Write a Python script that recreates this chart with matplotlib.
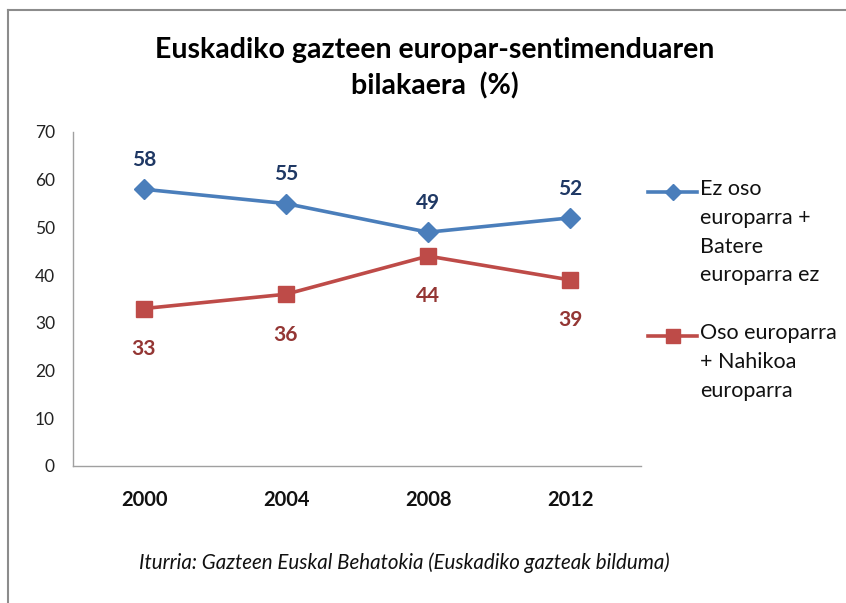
import matplotlib
matplotlib.use("Agg")
import matplotlib.pyplot as plt
from matplotlib.lines import Line2D

plt.rcParams['font.family'] = ['Lato', 'DejaVu Sans']

# data
years = ['2000', '2004', '2008', '2012']
ez_europarra = [58, 55, 49, 52]
europarra = [33, 36, 44, 39]
legend_labels = ['Ez oso\neuroparra +\nBatere\neuroparra ez',
                 'Oso europarra\n+ Nahikoa\neuroparra']
y_ticks = [0, 10, 20, 30, 40, 50, 60, 70]

blue = '#4A7EBB'
red = '#BE4B48'
blue_txt = '#1F3864'
red_txt = '#943634'

W, H = 846, 603
fig = plt.figure(figsize=(W / 100, H / 100), dpi=100)
fig.patch.set_facecolor('white')

ax = fig.add_axes([73 / W, (H - 466) / H, (641 - 73) / W, (466 - 132) / H])
x = list(range(len(years)))

ax.plot(x, ez_europarra, color=blue, lw=2.6, marker='D', ms=10, mec=blue, mfc=blue)
ax.plot(x, europarra, color=red, lw=2.6, marker='s', ms=11, mec=red, mfc=red)

for xi, v in zip(x, ez_europarra):
    ax.annotate(str(v), (xi, v), xytext=(0, 21), textcoords='offset points',
                ha='center', va='center', fontsize=15, fontweight='bold', color=blue_txt)
for xi, v in zip(x, europarra):
    ax.annotate(str(v), (xi, v), xytext=(0, -29), textcoords='offset points',
                ha='center', va='center', fontsize=15, fontweight='bold', color=red_txt)

ax.set_xlim(-0.5, 3.5)
ax.set_ylim(0, 70)
ax.set_yticks(y_ticks)
ax.set_xticks(x)
ax.set_xticklabels(years, fontsize=14.5, fontweight='bold')
ax.tick_params(axis='y', length=0, pad=13, labelsize=12.5, labelcolor='#222222')
ax.tick_params(axis='x', length=0, pad=17, labelcolor='#111111')
for s in ['top', 'right']:
    ax.spines[s].set_visible(False)
for s in ['left', 'bottom']:
    ax.spines[s].set_color('#A0A0A0')
    ax.spines[s].set_linewidth(1.0)

# title
fig.text(435 / W, 1 - 50 / H, 'Euskadiko gazteen europar-sentimenduaren',
         ha='center', va='center', fontsize=20.5, fontweight='bold', color='black')
fig.text(435 / W, 1 - 86 / H, 'bilakaera  (%)',
         ha='center', va='center', fontsize=20.5, fontweight='bold', color='black')

# legend drawn by hand so the handle sits on the first text line
for (ly, col, mk, ms, lab) in [(192, blue, 'D', 8, legend_labels[0]),
                               (336, red, 's', 10, legend_labels[1])]:
    fy = 1 - ly / H
    fig.add_artist(Line2D([648 / W, 697 / W], [fy, fy], color=col, lw=2.6,
                          transform=fig.transFigure))
    fig.add_artist(Line2D([672.5 / W], [fy], color=col, marker=mk, ms=ms,
                          ls='none', transform=fig.transFigure))
    fig.text(700 / W, fy + 13 / H, lab, ha='left', va='top', fontsize=15.5,
             color='#111111', linespacing=1.55)

# source
fig.text(404 / W, 1 - 563 / H, 'Iturria: Gazteen Euskal Behatokia (Euskadiko gazteak bilduma)',
         ha='center', va='center', fontsize=14.8, style='italic', color='#111111')

# outer frame lines
fig.add_artist(Line2D([8 / W, 8 / W], [0, 1 - 10 / H], color='#8C8C8C', lw=1.5,
                      transform=fig.transFigure))
fig.add_artist(Line2D([8 / W, 1], [1 - 10 / H, 1 - 10 / H], color='#8C8C8C', lw=1.5,
                      transform=fig.transFigure))

fig.savefig('out.png', dpi=100)
